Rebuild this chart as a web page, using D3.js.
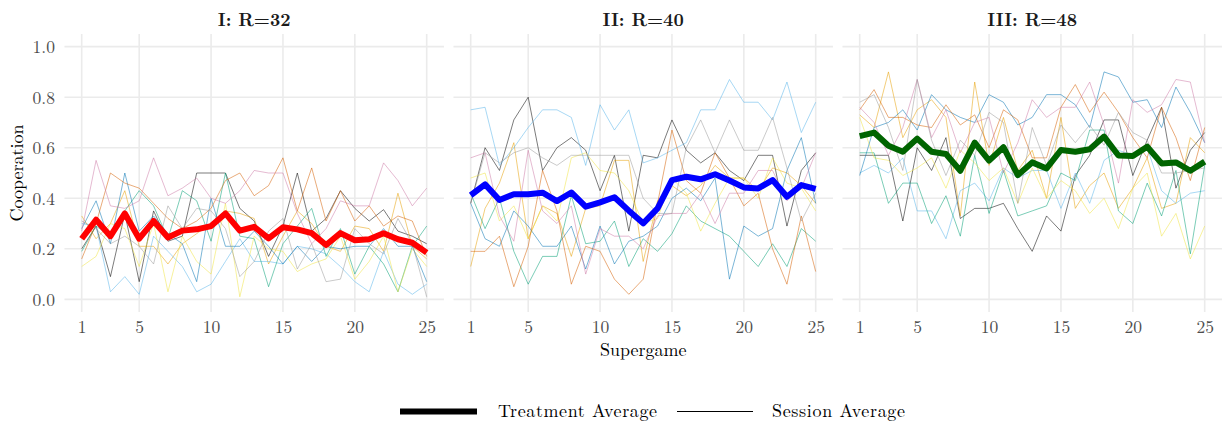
<!DOCTYPE html>
<html>
<head>
<meta charset="utf-8">
<script src="https://cdn.jsdelivr.net/npm/d3@7"></script>
<style>
  html, body { margin: 0; padding: 0; background: #fff; }
  svg text { font-family: "Latin Modern Roman", "CMU Serif", "Liberation Serif", serif; }
</style>
</head>
<body>
<svg id="chart" width="1223" height="424"></svg>
<script>
// ---------- data ----------
const supergames = d3.range(1, 26);
const panelTitles = ["I: R=32", "II: R=40", "III: R=48"];
const treatmentColors = ["#FF0000", "#0000FF", "#006400"];
const xTicks = [1, 5, 10, 15, 20, 25];
const yTicks = [0, 0.2, 0.4, 0.6, 0.8, 1.0];
// session colours (Okabe-Ito)
const sessionColors = ["#000000", "#E69F00", "#56B4E9", "#009E73", "#F0E442", "#0072B2", "#D55E00", "#CC79A7", "#999999"];

const avgI   = [0.24,0.315,0.25,0.34,0.24,0.31,0.245,0.272,0.277,0.29,0.34,0.272,0.287,0.241,0.285,0.277,0.262,0.215,0.262,0.234,0.238,0.262,0.238,0.224,0.185];
const avgII  = [0.412,0.455,0.393,0.416,0.416,0.422,0.389,0.423,0.367,0.384,0.404,0.351,0.301,0.36,0.472,0.485,0.475,0.495,0.47,0.443,0.439,0.472,0.406,0.452,0.437];
const avgIII = [0.646,0.66,0.608,0.584,0.636,0.584,0.575,0.509,0.62,0.549,0.602,0.492,0.542,0.518,0.591,0.584,0.594,0.644,0.569,0.567,0.604,0.538,0.542,0.509,0.545];

// one row per session, in the order of sessionColors
const sessionsI = [
  [0.20,0.29,0.09,0.34,0.07,0.35,0.23,0.25,0.50,0.50,0.50,0.36,0.31,0.17,0.29,0.50,0.27,0.32,0.43,0.36,0.31,0.355,0.27,0.25,0.22],
  [0.33,0.24,0.30,0.43,0.21,0.21,0.14,0.22,0.26,0.30,0.35,0.34,0.32,0.14,0.25,0.35,0.30,0.21,0.19,0.29,0.28,0.19,0.42,0.21,0.16],
  [0.30,0.29,0.03,0.09,0.02,0.25,0.19,0.13,0.03,0.06,0.15,0.24,0.15,0.15,0.14,0.21,0.20,0.18,0.13,0.07,0.03,0.19,0.06,0.02,0.06],
  [0.19,0.29,0.25,0.35,0.43,0.37,0.24,0.43,0.39,0.23,0.50,0.25,0.24,0.05,0.22,0.29,0.36,0.17,0.28,0.10,0.21,0.14,0.03,0.21,0.29],
  [0.13,0.17,0.30,0.28,0.13,0.30,0.03,0.25,0.15,0.10,0.38,0.01,0.25,0.20,0.19,0.11,0.14,0.16,0.25,0.08,0.15,0.25,0.03,0.20,0.13],
  [0.28,0.39,0.22,0.50,0.27,0.33,0.26,0.22,0.07,0.40,0.21,0.21,0.27,0.21,0.14,0.21,0.15,0.21,0.20,0.21,0.21,0.28,0.21,0.21,0.07],
  [0.16,0.30,0.50,0.46,0.44,0.38,0.32,0.28,0.31,0.36,0.47,0.50,0.41,0.45,0.56,0.35,0.52,0.31,0.43,0.31,0.37,0.29,0.33,0.31,0.17],
  [0.27,0.55,0.37,0.36,0.39,0.56,0.41,0.44,0.48,0.40,0.38,0.43,0.51,0.50,0.50,0.34,0.22,0.28,0.39,0.37,0.37,0.54,0.47,0.37,0.44],
  [0.31,0.28,0.22,0.25,0.21,0.14,0.37,0.28,0.36,0.35,0.28,0.09,0.15,0.27,0.32,0.12,0.22,0.07,0.08,0.28,0.22,0.18,0.32,0.22,0.01]
];
const sessionsII = [
  [0.38,0.60,0.51,0.71,0.80,0.51,0.60,0.64,0.59,0.43,0.57,0.27,0.57,0.56,0.71,0.59,0.54,0.58,0.51,0.47,0.57,0.57,0.29,0.51,0.58],
  [0.13,0.36,0.46,0.62,0.24,0.37,0.34,0.17,0.36,0.37,0.55,0.55,0.15,0.39,0.45,0.41,0.45,0.53,0.48,0.48,0.43,0.52,0.50,0.45,0.38],
  [0.75,0.76,0.53,0.60,0.68,0.75,0.75,0.72,0.53,0.77,0.67,0.75,0.54,0.56,0.59,0.62,0.75,0.75,0.87,0.78,0.78,0.71,0.86,0.66,0.78],
  [0.42,0.28,0.40,0.19,0.06,0.17,0.17,0.41,0.22,0.23,0.31,0.13,0.24,0.19,0.26,0.37,0.31,0.28,0.25,0.19,0.13,0.22,0.13,0.28,0.23],
  [0.48,0.50,0.31,0.37,0.24,0.37,0.31,0.56,0.58,0.51,0.50,0.43,0.30,0.32,0.48,0.42,0.27,0.38,0.48,0.48,0.40,0.56,0.46,0.44,0.35],
  [0.38,0.24,0.21,0.35,0.29,0.21,0.21,0.29,0.12,0.29,0.14,0.23,0.25,0.29,0.40,0.44,0.39,0.48,0.08,0.29,0.25,0.28,0.51,0.64,0.38],
  [0.19,0.19,0.25,0.05,0.21,0.51,0.35,0.06,0.21,0.19,0.08,0.02,0.08,0.38,0.67,0.47,0.42,0.58,0.48,0.37,0.42,0.20,0.06,0.33,0.11],
  [0.56,0.58,0.33,0.23,0.59,0.35,0.30,0.37,0.10,0.28,0.25,0.25,0.20,0.33,0.34,0.34,0.42,0.30,0.42,0.42,0.51,0.51,0.39,0.44,0.58],
  [0.38,0.58,0.54,0.58,0.60,0.56,0.53,0.57,0.57,0.57,0.57,0.57,0.40,0.34,0.34,0.60,0.71,0.58,0.71,0.59,0.59,0.72,0.52,0.31,0.42]
];
const sessionsIII = [
  [0.57,0.57,0.57,0.31,0.60,0.51,0.64,0.32,0.36,0.36,0.38,0.28,0.19,0.33,0.27,0.49,0.57,0.71,0.71,0.49,0.63,0.76,0.44,0.59,0.66],
  [0.73,0.68,0.90,0.64,0.75,0.79,0.72,0.33,0.86,0.53,0.72,0.51,0.59,0.40,0.72,0.36,0.45,0.50,0.36,0.44,0.56,0.36,0.38,0.64,0.58],
  [0.50,0.53,0.50,0.56,0.35,0.35,0.24,0.43,0.46,0.39,0.52,0.48,0.51,0.51,0.36,0.50,0.38,0.55,0.59,0.57,0.60,0.43,0.38,0.42,0.43],
  [0.58,0.58,0.38,0.46,0.46,0.30,0.41,0.25,0.57,0.34,0.51,0.33,0.35,0.37,0.50,0.47,0.67,0.67,0.35,0.30,0.46,0.33,0.51,0.18,0.53],
  [0.72,0.56,0.55,0.49,0.52,0.56,0.44,0.59,0.54,0.47,0.52,0.38,0.52,0.40,0.47,0.43,0.34,0.40,0.28,0.44,0.50,0.25,0.34,0.16,0.29],
  [0.49,0.68,0.70,0.75,0.67,0.81,0.75,0.72,0.70,0.81,0.78,0.69,0.72,0.81,0.81,0.77,0.68,0.90,0.88,0.78,0.79,0.68,0.84,0.74,0.62],
  [0.75,0.83,0.72,0.72,0.69,0.68,0.77,0.69,0.73,0.60,0.75,0.71,0.56,0.56,0.76,0.85,0.74,0.82,0.74,0.64,0.56,0.76,0.64,0.47,0.68],
  [0.76,0.70,0.57,0.68,0.87,0.64,0.75,0.58,0.70,0.72,0.50,0.62,0.79,0.72,0.76,0.76,0.86,0.69,0.46,0.79,0.74,0.77,0.87,0.86,0.62],
  [0.78,0.81,0.68,0.51,0.87,0.63,0.49,0.63,0.57,0.74,0.70,0.38,0.68,0.53,0.69,0.62,0.69,0.61,0.74,0.66,0.63,0.50,0.50,0.51,0.52]
];

const averages = [avgI, avgII, avgIII];
const sessions = [sessionsI, sessionsII, sessionsIII];

// ---------- layout ----------
const svg = d3.select("#chart");
const panelLeft0 = 64.45, panelW = 379.5, panelGap = 9.5;
const panelTop = 34.0, panelBottom = 312.0;

const y = d3.scaleLinear().domain([-0.05, 1.05]).range([panelBottom, panelTop]);

const gridColor = "#EBEBEB";
const tickColor = "#4D4D4D";

panelTitles.forEach((title, p) => {
  const x0 = panelLeft0 + p * (panelW + panelGap);
  const x = d3.scaleLinear().domain([1 - 1.2, 25 + 1.2]).range([x0, x0 + panelW]);
  const g = svg.append("g");

  // grid
  g.selectAll("line.hg").data(yTicks).join("line")
    .attr("x1", x0).attr("x2", x0 + panelW)
    .attr("y1", d => y(d)).attr("y2", d => y(d))
    .attr("stroke", gridColor).attr("stroke-width", 1.6);
  g.selectAll("line.vg").data(xTicks).join("line")
    .attr("y1", panelTop).attr("y2", panelBottom)
    .attr("x1", d => x(d)).attr("x2", d => x(d))
    .attr("stroke", gridColor).attr("stroke-width", 1.6);

  // x axis labels
  const xAxis = d3.axisBottom(x).tickValues(xTicks).tickSize(0).tickPadding(0);
  const xa = g.append("g").attr("transform", `translate(0,${panelBottom})`).call(xAxis);
  xa.select(".domain").remove();
  xa.selectAll("text").attr("dy", null).attr("y", 21)
    .attr("fill", tickColor).style("font-size", "17.5px");

  // y axis labels (first panel only)
  if (p === 0) {
    const yAxis = d3.axisLeft(y).tickValues(yTicks).tickFormat(d3.format(".1f")).tickSize(0).tickPadding(0);
    const ya = g.append("g").attr("transform", `translate(${x0 - 9.5},0)`).call(yAxis);
    ya.select(".domain").remove();
    ya.selectAll("text").attr("dy", "0.34em").attr("x", 0)
      .attr("fill", tickColor).style("font-size", "17.5px");
  }

  // session lines
  const line = d3.line().x((d, i) => x(supergames[i])).y(d => y(d));
  g.selectAll("path.sess").data(sessions[p]).join("path")
    .attr("d", d => line(d))
    .attr("fill", "none")
    .attr("stroke", (d, i) => sessionColors[i])
    .attr("stroke-opacity", 0.55)
    .attr("stroke-width", 0.95)
    .attr("stroke-linejoin", "round");

  // treatment average
  g.append("path").attr("d", line(averages[p]))
    .attr("fill", "none")
    .attr("stroke", treatmentColors[p])
    .attr("stroke-width", 6)
    .attr("stroke-linejoin", "round");

  // title
  g.append("text").attr("x", x0 + panelW / 2).attr("y", 25.5)
    .attr("text-anchor", "middle").attr("font-weight", "bold")
    .attr("fill", "#1A1A1A").style("font-size", "18px").text(title);
});

// axis titles
svg.append("text").attr("x", (panelLeft0 + panelLeft0 + 3 * panelW + 2 * panelGap) / 2).attr("y", 356)
  .attr("text-anchor", "middle").style("font-size", "18px").attr("fill", "#000").text("Supergame");
svg.append("text").attr("transform", `translate(23,${(panelTop + panelBottom) / 2}) rotate(-90)`)
  .attr("text-anchor", "middle").style("font-size", "18px").attr("fill", "#000").text("Cooperation");

// legend
const legend = svg.append("g");
const legendItems = [
  { label: "Treatment Average", width: 6, x1: 400, x2: 477, tx: 498, tl: 159 },
  { label: "Session Average", width: 1, x1: 677, x2: 753, tx: 772, tl: 133 }
];
legendItems.forEach(it => {
  legend.append("line").attr("x1", it.x1).attr("x2", it.x2).attr("y1", 411.5).attr("y2", 411.5)
    .attr("stroke", "#000").attr("stroke-width", it.width);
  legend.append("text").attr("x", it.tx).attr("y", 417).style("font-size", "18px")
    .attr("fill", "#000").attr("textLength", it.tl).text(it.label);
});
</script>
</body>
</html>
